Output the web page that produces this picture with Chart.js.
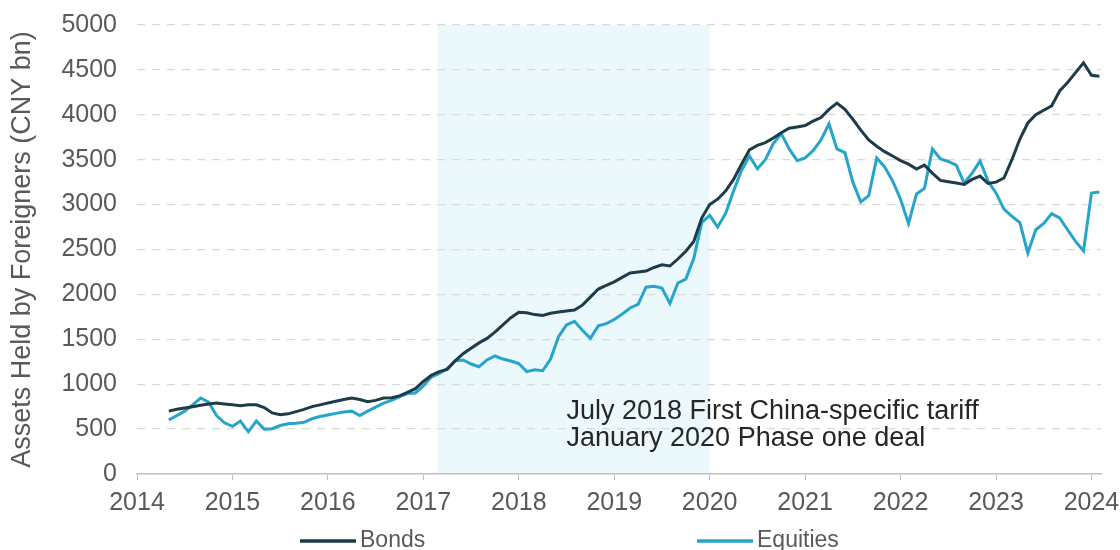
<!DOCTYPE html>
<html lang="en">
<head>
  <meta charset="UTF-8">
  <title>Assets Held by Foreigners</title>
  <script src="https://cdn.jsdelivr.net/npm/chart.js"></script>
  <style>
    html, body {
      margin: 0;
      padding: 0;
      background: #ffffff;
    }
    canvas {
      display: block;
    }
  </style>
</head>
<body>
  <canvas id="assetsChart" width="1120" height="550"></canvas>

  <script>
    // monthly series, first value is May 2014
    const START_YEAR = 2014;
    const START_MONTH = 5;

    const bonds = [
      700, 720, 735, 750, 765, 780, 790, 780, 770, 760,
      770, 770, 740, 680, 660, 670, 695, 720, 750, 770,
      790, 810, 830, 846, 830, 805, 820, 846, 850, 870,
      910, 950, 1030, 1100, 1140, 1165, 1260, 1340, 1400, 1460,
      1510, 1580, 1660, 1740, 1800, 1795, 1775, 1765, 1790, 1805,
      1815, 1826, 1880, 1970, 2060, 2100, 2140, 2190, 2238, 2250,
      2260, 2300, 2330, 2316, 2394, 2480, 2590, 2850, 3000, 3060,
      3150, 3280, 3450, 3610, 3660, 3690, 3742, 3800, 3850, 3864,
      3880, 3930, 3970, 4060, 4130, 4060, 3950, 3830, 3720, 3650,
      3590, 3541, 3490, 3450, 3396, 3440, 3350, 3270, 3255, 3240,
      3225, 3280, 3318, 3235, 3250, 3296, 3500, 3730, 3909, 4000,
      4050, 4100, 4265, 4360, 4470, 4580, 4440, 4430
    ];

    const equities = [
      601, 650, 700, 770, 846, 800, 650, 570, 530, 590,
      470, 590, 500, 505, 540, 560, 565, 575, 615, 640,
      657, 675, 690, 700, 650, 700, 745, 790, 820, 860,
      895, 902, 980, 1080, 1120, 1175, 1260, 1270, 1225, 1195,
      1270, 1314, 1280, 1258, 1230, 1140, 1160, 1150, 1280, 1530,
      1660, 1700, 1600, 1510, 1650, 1675, 1720, 1780, 1849, 1890,
      2080, 2090, 2070, 1900, 2127, 2170, 2400, 2800, 2880, 2750,
      2900, 3150, 3380, 3541, 3400, 3500, 3680, 3790, 3620, 3490,
      3520, 3600, 3720, 3900, 3620, 3580, 3250, 3030, 3100, 3520,
      3420, 3263, 3060, 2790, 3118, 3180, 3619, 3510, 3480, 3440,
      3240, 3350, 3485, 3260, 3130, 2950, 2870, 2800, 2461, 2720,
      2790, 2900, 2851, 2720, 2590, 2483, 3129, 3140
    ];

    const years = [2014, 2015, 2016, 2017, 2018, 2019, 2020, 2021, 2022, 2023, 2024];
    const shadedPeriod = [2017.15, 2020.0];
    const notes = ['July 2018 First China-specific tariff', 'January 2020 Phase one deal'];
    const noteAnchor = { x: 2018.5, y: [700, 400] };

    const FONT = '"Liberation Sans", Arial, sans-serif';
    const GREY = '#595959';

    // month index -> decimal year on the linear x axis
    function toPoints(values) {
      return values.map((v, i) => {
        const m = START_MONTH - 1 + i;
        return { x: START_YEAR + m / 12, y: v };
      });
    }

    const shadePlugin = {
      id: 'shade',
      beforeDraw(chart) {
        const { ctx, chartArea, scales } = chart;
        const x0 = scales.x.getPixelForValue(shadedPeriod[0]);
        const x1 = scales.x.getPixelForValue(shadedPeriod[1]);
        ctx.save();
        ctx.fillStyle = '#ebf9fd';
        ctx.fillRect(x0, chartArea.top, x1 - x0, chartArea.bottom - chartArea.top);
        ctx.restore();
      }
    };

    const notePlugin = {
      id: 'notes',
      afterDatasetsDraw(chart) {
        const { ctx, scales } = chart;
        ctx.save();
        ctx.font = '27px ' + FONT;
        ctx.fillStyle = '#262626';
        ctx.textBaseline = 'middle';
        notes.forEach((text, i) => {
          ctx.fillText(text, scales.x.getPixelForValue(noteAnchor.x), scales.y.getPixelForValue(noteAnchor.y[i]));
        });
        ctx.restore();
      }
    };

    // legend row under the axis, items spread apart
    const legendRow = {
      id: 'legendRow',
      afterDraw(chart) {
        const ctx = chart.ctx;
        const starts = [300, 697];
        const lineLength = 56;
        const y = 541;
        ctx.save();
        ctx.font = '23px ' + FONT;
        ctx.textBaseline = 'middle';
        chart.data.datasets.forEach((ds, i) => {
          ctx.strokeStyle = ds.borderColor;
          ctx.lineWidth = 3.5;
          ctx.beginPath();
          ctx.moveTo(starts[i], y);
          ctx.lineTo(starts[i] + lineLength, y);
          ctx.stroke();
          ctx.fillStyle = GREY;
          ctx.fillText(ds.label, starts[i] + lineLength + 4, y);
        });
        ctx.restore();
      }
    };

    const ctx = document.getElementById('assetsChart').getContext('2d');

    new Chart(ctx, {
      type: 'line',
      data: {
        datasets: [
          {
            label: 'Bonds',
            data: toPoints(bonds),
            borderColor: '#1e3b4a',
            borderWidth: 3,
            pointRadius: 0,
            tension: 0
          },
          {
            label: 'Equities',
            data: toPoints(equities),
            borderColor: '#27a4c9',
            borderWidth: 3,
            pointRadius: 0,
            tension: 0
          }
        ]
      },
      options: {
        responsive: false,
        animation: false,
        layout: {
          padding: { top: 25, right: 19, bottom: 24, left: 0 }
        },
        plugins: {
          legend: { display: false },
          tooltip: { enabled: false }
        },
        scales: {
          x: {
            type: 'linear',
            min: 2014,
            max: 2024.1,
            afterBuildTicks: axis => {
              axis.ticks = years.map(v => ({ value: v }));
            },
            // the last label may hang past the plot edge
            afterFit: scale => { scale.paddingLeft = 0; scale.paddingRight = 0; },
            ticks: {
              color: GREY,
              font: { family: FONT, size: 25 },
              padding: 8,
              maxRotation: 0,
              autoSkip: false,
              callback: v => String(v)
            },
            grid: {
              drawOnChartArea: false,
              drawTicks: true,
              tickLength: 6,
              color: '#bfbfbf'
            },
            border: { color: '#bfbfbf', width: 1.5 }
          },
          y: {
            min: 0,
            max: 5000,
            afterFit: scale => {
              scale.width = 137;
              scale.paddingTop = 0;
              scale.paddingBottom = 0;
            },
            ticks: {
              stepSize: 500,
              color: GREY,
              font: { family: FONT, size: 25 },
              padding: 20,
              callback: v => String(v)
            },
            grid: {
              drawTicks: false,
              lineWidth: 1.3,
              color: c => c.tick && c.tick.value === 0 ? 'rgba(0,0,0,0)' : '#d9d9d9'
            },
            border: { display: false, dash: [8, 7] },
            title: {
              display: true,
              text: 'Assets Held by Foreigners (CNY bn)',
              color: GREY,
              font: { family: FONT, size: 27 },
              padding: { top: 6, bottom: 0 }
            }
          }
        }
      },
      plugins: [shadePlugin, notePlugin, legendRow]
    });
  </script>
</body>
</html>
